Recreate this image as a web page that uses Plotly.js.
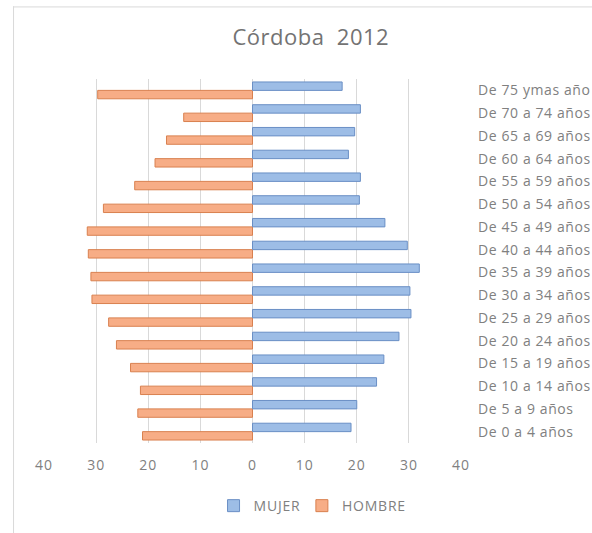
<!DOCTYPE html>
<html>
<head>
<meta charset="utf-8">
<script src="https://cdn.plot.ly/plotly-3.0.1.min.js"></script>
<style>
html,body{margin:0;padding:0;background:#fff;}
#chart{width:592px;height:533px;}
#chart .ytick text{letter-spacing:0.6px;}
#chart .xtick text{letter-spacing:1px;}
#chart .legendtext{letter-spacing:0.8px;}
#chart .gtitle{letter-spacing:0.5px;}
</style>
</head>
<body>
<div id="chart"></div>
<script>
const categories = ["De 0 a 4 años","De 5 a 9 años","De 10 a 14 años","De 15 a 19 años","De 20 a 24 años","De 25 a 29 años","De 30 a 34 años","De 35 a 39 años","De 40 a 44 años","De 45 a 49 años","De 50 a 54 años","De 55 a 59 años","De 60 a 64 años","De 65 a 69 años","De 70 a 74 años","De 75 ymas año"];
const mujer = [18.9, 20.0, 23.8, 25.2, 28.1, 30.4, 30.2, 32.0, 29.7, 25.4, 20.5, 20.7, 18.4, 19.6, 20.7, 17.2];
const hombre = [21.1, 22.0, 21.5, 23.4, 26.1, 27.6, 30.8, 31.0, 31.5, 31.7, 28.6, 22.6, 18.7, 16.5, 13.2, 29.7];
const tickVals = [-40, -30, -20, -10, 0, 10, 20, 30, 40];
const tickText = ["40", "30", "20", "10", "0", "10", "20", "30", "40"];

const font = "'Open Sans', 'Noto Sans', sans-serif";
const gray = "#808080";

const traces = [
  {
    type: "bar", orientation: "h", name: "HOMBRE",
    y: categories, x: hombre.map(v => -v),
    marker: {color: "#F7AD86", line: {color: "#D9804F", width: 1}},
    hoverinfo: "none"
  },
  {
    type: "bar", orientation: "h", name: "MUJER",
    y: categories, x: mujer,
    marker: {color: "#9DBDE6", line: {color: "#6A8FC5", width: 1}},
    hoverinfo: "none"
  }
];

const layout = {
  width: 592, height: 533,
  margin: {l: 44, r: 131, t: 79, b: 89},
  paper_bgcolor: "#fff", plot_bgcolor: "#fff",
  font: {family: font, color: gray, size: 13},
  title: {text: "Córdoba  2012", font: {family: font, size: 22, color: "#737373"}, x: 0.525, xref: "container", xanchor: "center", y: 0.93, yref: "container", yanchor: "middle"},
  barmode: "group", bargap: 0.26, bargroupgap: 0,
  xaxis: {
    range: [-40, 40], tickvals: tickVals, ticktext: tickText,
    showgrid: true, gridcolor: "#d9d9d9", gridwidth: 1,
    zeroline: false, showline: false, ticks: "",
    tickfont: {size: 14, color: gray}, ticklabelstandoff: 12, fixedrange: true
  },
  yaxis: {
    type: "category", side: "right", range: [-0.5, 15.5],
    showgrid: false, zeroline: false, showline: false, ticks: "",
    tickfont: {size: 14, color: gray}, ticklabelstandoff: 16, fixedrange: true
  },
  showlegend: true,
  legend: {orientation: "h", traceorder: "reversed", x: 0.638, xref: "paper", xanchor: "center", y: -0.17, yanchor: "middle",
    font: {size: 14, color: gray}, itemwidth: 30},
  shapes: [
    {type: "line", xref: "paper", yref: "paper", x0: -0.073, x1: -0.073, y0: 1.2, y1: -0.3, line: {color: "#d9d9d9", width: 1}},
    {type: "line", xref: "paper", yref: "paper", x0: -0.073, x1: 1.5, y0: 1.198, y1: 1.198, line: {color: "#d9d9d9", width: 1}}
  ]
};

Plotly.newPlot("chart", traces, layout, {displayModeBar: false, staticPlot: true});
</script>
</body>
</html>
